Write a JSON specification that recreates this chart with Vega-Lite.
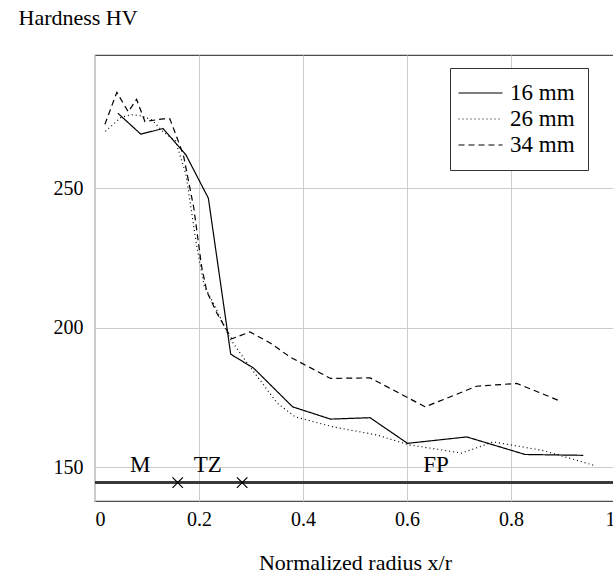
{
  "$schema": "https://vega.github.io/schema/vega-lite/v6.json",
  "width": 520,
  "height": 446,
  "autosize": {"type": "none"},
  "padding": {"left": 95, "top": 55, "right": 0, "bottom": 74},
  "background": "white",
  "config": {
    "font": "Liberation Serif",
    "view": {"stroke": "#4d4d4d", "strokeWidth": 1.2},
    "axis": {"labelFont": "Liberation Serif", "titleFont": "Liberation Serif", "labelColor": "#000", "titleColor": "#000", "titleFontWeight": "normal", "gridColor": "#cccccc", "gridWidth": 1, "domain": false, "ticks": false}
  },
  "datasets": {
    "lines": [
      {"x": 0.044, "hv": 277, "series": "16 mm"},
      {"x": 0.088, "hv": 269.5, "series": "16 mm"},
      {"x": 0.131, "hv": 271.5, "series": "16 mm"},
      {"x": 0.175, "hv": 262, "series": "16 mm"},
      {"x": 0.218, "hv": 246.5, "series": "16 mm"},
      {"x": 0.261, "hv": 190.5, "series": "16 mm"},
      {"x": 0.305, "hv": 185.5, "series": "16 mm"},
      {"x": 0.38, "hv": 171.6, "series": "16 mm"},
      {"x": 0.453, "hv": 167.2, "series": "16 mm"},
      {"x": 0.529, "hv": 167.7, "series": "16 mm"},
      {"x": 0.601, "hv": 158.5, "series": "16 mm"},
      {"x": 0.715, "hv": 160.8, "series": "16 mm"},
      {"x": 0.827, "hv": 154.5, "series": "16 mm"},
      {"x": 0.939, "hv": 154.2, "series": "16 mm"},
      {"x": 0.02, "hv": 270.5, "series": "26 mm"},
      {"x": 0.05, "hv": 275.5, "series": "26 mm"},
      {"x": 0.07, "hv": 276.5, "series": "26 mm"},
      {"x": 0.09, "hv": 276, "series": "26 mm"},
      {"x": 0.11, "hv": 274.5, "series": "26 mm"},
      {"x": 0.13, "hv": 270.5, "series": "26 mm"},
      {"x": 0.155, "hv": 267, "series": "26 mm"},
      {"x": 0.175, "hv": 255, "series": "26 mm"},
      {"x": 0.195, "hv": 230, "series": "26 mm"},
      {"x": 0.21, "hv": 215, "series": "26 mm"},
      {"x": 0.23, "hv": 208, "series": "26 mm"},
      {"x": 0.26, "hv": 196, "series": "26 mm"},
      {"x": 0.29, "hv": 188, "series": "26 mm"},
      {"x": 0.35, "hv": 173, "series": "26 mm"},
      {"x": 0.385, "hv": 168, "series": "26 mm"},
      {"x": 0.458, "hv": 164.4, "series": "26 mm"},
      {"x": 0.542, "hv": 161.5, "series": "26 mm"},
      {"x": 0.603, "hv": 158, "series": "26 mm"},
      {"x": 0.705, "hv": 155, "series": "26 mm"},
      {"x": 0.766, "hv": 159, "series": "26 mm"},
      {"x": 0.86, "hv": 156, "series": "26 mm"},
      {"x": 0.958, "hv": 150.7, "series": "26 mm"},
      {"x": 0.019, "hv": 273, "series": "34 mm"},
      {"x": 0.042, "hv": 284.5, "series": "34 mm"},
      {"x": 0.064, "hv": 277.5, "series": "34 mm"},
      {"x": 0.08, "hv": 282, "series": "34 mm"},
      {"x": 0.096, "hv": 274, "series": "34 mm"},
      {"x": 0.131, "hv": 275, "series": "34 mm"},
      {"x": 0.144, "hv": 275, "series": "34 mm"},
      {"x": 0.17, "hv": 262, "series": "34 mm"},
      {"x": 0.19, "hv": 243, "series": "34 mm"},
      {"x": 0.205, "hv": 222, "series": "34 mm"},
      {"x": 0.215, "hv": 213, "series": "34 mm"},
      {"x": 0.235, "hv": 205, "series": "34 mm"},
      {"x": 0.263, "hv": 196, "series": "34 mm"},
      {"x": 0.298, "hv": 198.5, "series": "34 mm"},
      {"x": 0.337, "hv": 194.5, "series": "34 mm"},
      {"x": 0.375, "hv": 189.5, "series": "34 mm"},
      {"x": 0.453, "hv": 181.8, "series": "34 mm"},
      {"x": 0.529, "hv": 182, "series": "34 mm"},
      {"x": 0.635, "hv": 171.6, "series": "34 mm"},
      {"x": 0.734, "hv": 179, "series": "34 mm"},
      {"x": 0.811, "hv": 180, "series": "34 mm"},
      {"x": 0.897, "hv": 173.5, "series": "34 mm"}
    ],
    "zones": [
      {"x": 0.087, "hv": 150.7, "label": "M"},
      {"x": 0.217, "hv": 150.7, "label": "TZ"},
      {"x": 0.656, "hv": 150.7, "label": "FP"}
    ],
    "bounds": [
      {"x": 0.159, "hv": 144.4},
      {"x": 0.283, "hv": 144.4}
    ]
  },
  "layer": [
    {
      "data": {"name": "lines"},
      "mark": {"type": "line", "color": "black", "strokeWidth": 1.2},
      "encoding": {
        "x": {"field": "x", "type": "quantitative", "scale": {"domain": [0, 1], "nice": false},
          "axis": {"values": [0, 0.2, 0.4, 0.6, 0.8, 1], "format": "~g", "labelFontSize": 20, "labelPadding": 8, "title": "Normalized radius x/r", "titleFontSize": 22, "titleY": 61, "titleBaseline": "middle", "grid": true}},
        "y": {"field": "hv", "type": "quantitative", "scale": {"domain": [137.8, 297.9], "nice": false, "zero": false},
          "axis": {"values": [150, 200, 250], "labelFontSize": 20, "labelPadding": 12, "title": "Hardness HV", "titleFontSize": 22, "titleAngle": 0, "titleAlign": "left", "titleBaseline": "middle", "titleX": -77, "titleY": -38, "grid": true}},
        "strokeDash": {"field": "series", "type": "nominal",
          "scale": {"domain": ["16 mm", "26 mm", "34 mm"], "range": [[1, 0], [1, 3], [6, 4]]},
          "legend": {"title": null, "orient": "none", "legendX": 355, "legendY": 13, "symbolType": "M-1.5,0H2.5", "symbolSize": 484, "symbolStrokeWidth": 1.2, "symbolStrokeColor": "black", "labelFontSize": 23, "labelColor": "black", "labelFont": "Liberation Serif", "strokeColor": "#333", "padding": 13, "rowPadding": 2, "labelOffset": 23, "fillColor": "white"}}
      }
    },
    {
      "data": {"name": "bounds"},
      "mark": {"type": "rule", "color": "#333", "strokeWidth": 2.5, "x": 0, "x2": 520},
      "encoding": {"y": {"datum": 144.4, "type": "quantitative"}}
    },
    {
      "data": {"name": "bounds"},
      "mark": {"type": "point", "shape": "M-1,-1L0,0L-1,1M1,-1L0,0L1,1", "size": 110, "stroke": "black", "strokeWidth": 1.2, "filled": false, "opacity": 1},
      "encoding": {"x": {"field": "x", "type": "quantitative"}, "y": {"field": "hv", "type": "quantitative"}}
    },
    {
      "data": {"name": "zones"},
      "mark": {"type": "text", "fontSize": 23, "font": "Liberation Serif", "color": "black", "baseline": "middle", "align": "center"},
      "encoding": {"x": {"field": "x", "type": "quantitative"}, "y": {"field": "hv", "type": "quantitative"}, "text": {"field": "label"}}
    }
  ]
}
